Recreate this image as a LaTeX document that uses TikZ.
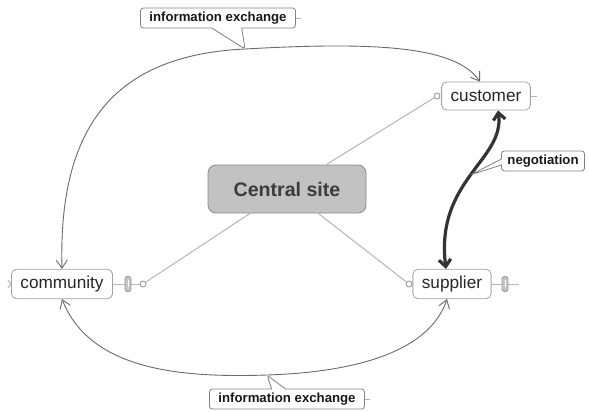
\documentclass[tikz,border=0pt]{standalone}
\usepackage{fontspec}
\setmainfont{Liberation Sans}
\usetikzlibrary{arrows.meta,shapes.callouts,calc}

\definecolor{boxline}{HTML}{A2A2A2}
\definecolor{linkline}{HTML}{B4B4B4}
\definecolor{curveline}{HTML}{6A6A6A}
\definecolor{centralfill}{HTML}{C2C2C2}
\definecolor{centraltext}{HTML}{3C3C3C}
\definecolor{negline}{HTML}{333333}

\tikzset{
  topic/.style={draw=boxline, fill=white, rounded corners=2.5pt, minimum height=14pt,
    inner xsep=4.5pt, font=\fontsize{8.6}{10}\selectfont, text=black!85},
  centraltopic/.style={draw=boxline!85!black, fill=centralfill, rounded corners=4pt,
    minimum width=79pt, minimum height=24pt, font=\fontsize{9.8}{12}\selectfont\bfseries,
    text=centraltext},
  rellabel/.style={rectangle callout, draw=boxline!80!black, fill=white, rounded corners=1.5pt,
    minimum height=10pt, inner xsep=4.5pt, inner ysep=1pt,
    font=\fontsize{6.6}{8}\selectfont\bfseries, text=black!90},
  link/.style={draw=linkline, line width=0.5pt},
  dot/.style={circle, draw=linkline!80!black, fill=white, inner sep=0pt, minimum size=3pt},
  clipicon/.style={draw=gray!80, fill=gray!45, rounded corners=1.2pt, inner sep=0pt,
    minimum width=3pt, minimum height=7.5pt},
  relation/.style={draw=curveline, line width=0.45pt, {Straight Barb[length=4pt,width=5.5pt]}-{Straight Barb[length=4pt,width=5.5pt]}},
  negotiate/.style={draw=negline, line width=1.6pt, {Straight Barb[length=3.5pt,width=6pt]}-{Straight Barb[length=3.5pt,width=6pt]}},
}

\begin{document}
\begin{tikzpicture}[x=0.5pt, y=-0.5pt]
\useasboundingbox (0,0) rectangle (589,412);

\node[centraltopic] (central) at (287,189) {Central site};
\node[topic] (customer) at (486,96) {customer};
\node[topic] (community) at (62,284) {community};
\node[topic] (supplier) at (452,284) {supplier};

\node[dot] (custdot) at (437,96) {};
\node[dot] (commdot) at (143,284) {};
\node[dot] (suppdot) at (409,284) {};

\draw[link] (central) -- (custdot);
\draw[link] (central) -- (commdot);
\draw[link] (central) -- (suppdot);
\draw[link] (community) -- (commdot);
\draw[link] (supplier.east) -- ++(27,0) coordinate (suppend);
\draw[link] (customer.east) -- ++(6,0) coordinate (custend);
\draw[link] (8,280) -- (11,284) -- (8,288);

\node[clipicon] (commclip) at (128,284) {};
\node[clipicon] (suppclip) at (505,284) {};
\draw[white, line width=0.4pt] (128,280) -- (128,287);
\draw[white, line width=0.4pt] (505,280) -- (505,287);

\coordinate (topmid) at (245,49);
\coordinate (botmid) at (267,375);

\draw[relation] (community.north) .. controls (58,120) and (120,55) .. (topmid)
  .. controls (370,42) and (455,45) .. ([xshift=-3pt]customer.north);
\draw[relation] (community.south) .. controls (90,370) and (180,378) .. (botmid)
  .. controls (360,372) and (430,350) .. ([xshift=-2.5pt]supplier.south);
\draw[negotiate] ($(customer.south)+(12,0)$) .. controls (505,160) and (435,180)
  .. ($(supplier.north)+(-6,0)$) coordinate[pos=0.5] (negmid);

\node[rellabel, callout absolute pointer=(topmid), callout pointer width=15pt] (topinfo) at (218,18) {information exchange};
\node[rellabel, callout absolute pointer=(botmid), callout pointer width=7pt] (botinfo) at (287,399) {information exchange};
\node[rellabel, callout absolute pointer=(negmid), callout pointer width=3pt, inner xsep=3pt] (neglabel) at (543,161) {negotiation};

\draw[link] (topinfo.east) -- ++(5,0);
\draw[link] (botinfo.east) -- ++(5,0);
\end{tikzpicture}
\end{document}
